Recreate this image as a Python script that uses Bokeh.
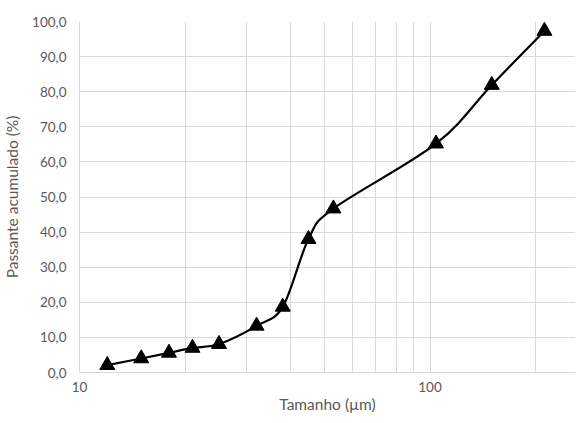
import numpy as np
from bokeh.plotting import figure
from bokeh.models import FixedTicker, CustomJSTickFormatter, Range1d
from bokeh.embed import file_html
from bokeh.resources import INLINE

# data
size_um = [12, 15, 18, 21, 25, 32, 38, 45, 53, 104, 150, 212]
passing = [2.1, 4.0, 5.6, 7.0, 8.1, 13.3, 18.7, 38.0, 46.7, 65.2, 81.9, 97.3]
x_major = [10, 100]
x_minor = [20, 30, 40, 50, 60, 70, 80, 90, 200]
y_ticks = [0, 10, 20, 30, 40, 50, 60, 70, 80, 90, 100]
x_title = "Tamanho (µm)"
y_title = "Passante acumulado (%)"

FONT = "Lato"
TXT = "#595959"
GRID = "#d9d9d9"

p = figure(width=575, height=415, x_axis_type="log",
           x_range=Range1d(10, 260), y_range=Range1d(0, 100),
           output_backend="svg", toolbar_location=None,
           min_border_left=77, min_border_right=0, min_border_top=21, min_border_bottom=43)
p.outline_line_color = None

# smooth line (Catmull-Rom style Bezier in log-x / linear-y space)
lx = np.log10(np.array(size_um, dtype=float))
yy = np.array(passing, dtype=float)
n = len(lx)
x0s, y0s, x1s, y1s, c0x, c0y, c1x, c1y = [], [], [], [], [], [], [], []
for i in range(n - 1):
    pa = max(i - 1, 0); pd = min(i + 2, n - 1)
    ax, ay = lx[i], yy[i]
    bx, by = lx[i + 1], yy[i + 1]
    k = 1.0 / 6.0
    cx0 = ax + (bx - lx[pa]) * k; cy0 = ay + (by - yy[pa]) * k
    cx1 = bx - (lx[pd] - ax) * k; cy1 = by - (yy[pd] - ay) * k
    x0s.append(10 ** ax); y0s.append(ay); x1s.append(10 ** bx); y1s.append(by)
    c0x.append(10 ** cx0); c0y.append(cy0); c1x.append(10 ** cx1); c1y.append(cy1)
p.bezier(x0=x0s, y0=y0s, x1=x1s, y1=y1s, cx0=c0x, cy0=c0y, cx1=c1x, cy1=c1y,
         line_color="black", line_width=2.2)

p.scatter(size_um, passing, marker="triangle", size=15, fill_color="black", line_color="black")

xt = FixedTicker(ticks=x_major, minor_ticks=x_minor)
p.xaxis.ticker = xt
p.xgrid.ticker = xt
p.xaxis.formatter = CustomJSTickFormatter(code="return tick.toFixed(0);")
p.xgrid.grid_line_color = GRID
p.xgrid.minor_grid_line_color = GRID

yt = FixedTicker(ticks=y_ticks)
p.yaxis.ticker = yt
p.ygrid.ticker = yt
p.yaxis.formatter = CustomJSTickFormatter(code="return tick.toFixed(1).replace('.', ',');")
p.ygrid.grid_line_color = GRID

for ax in (p.xaxis, p.yaxis):
    ax.axis_line_color = GRID
    ax.major_tick_line_color = None
    ax.minor_tick_line_color = None
    ax.major_tick_out = 0
    ax.minor_tick_out = 0
    ax.major_label_text_font = FONT
    ax.major_label_text_font_size = "13.5px"
    ax.major_label_text_color = TXT
    ax.axis_label_text_font = FONT
    ax.axis_label_text_font_size = "15.5px"
    ax.axis_label_text_font_style = "normal"
    ax.axis_label_text_color = TXT

p.xaxis.axis_label = x_title
p.xaxis.major_label_standoff = 9
p.xaxis.axis_label_standoff = 0
p.yaxis.axis_label = y_title
p.yaxis.major_label_standoff = 13
p.yaxis.axis_label_standoff = 8

open("out.html", "w").write(file_html(p, INLINE))
